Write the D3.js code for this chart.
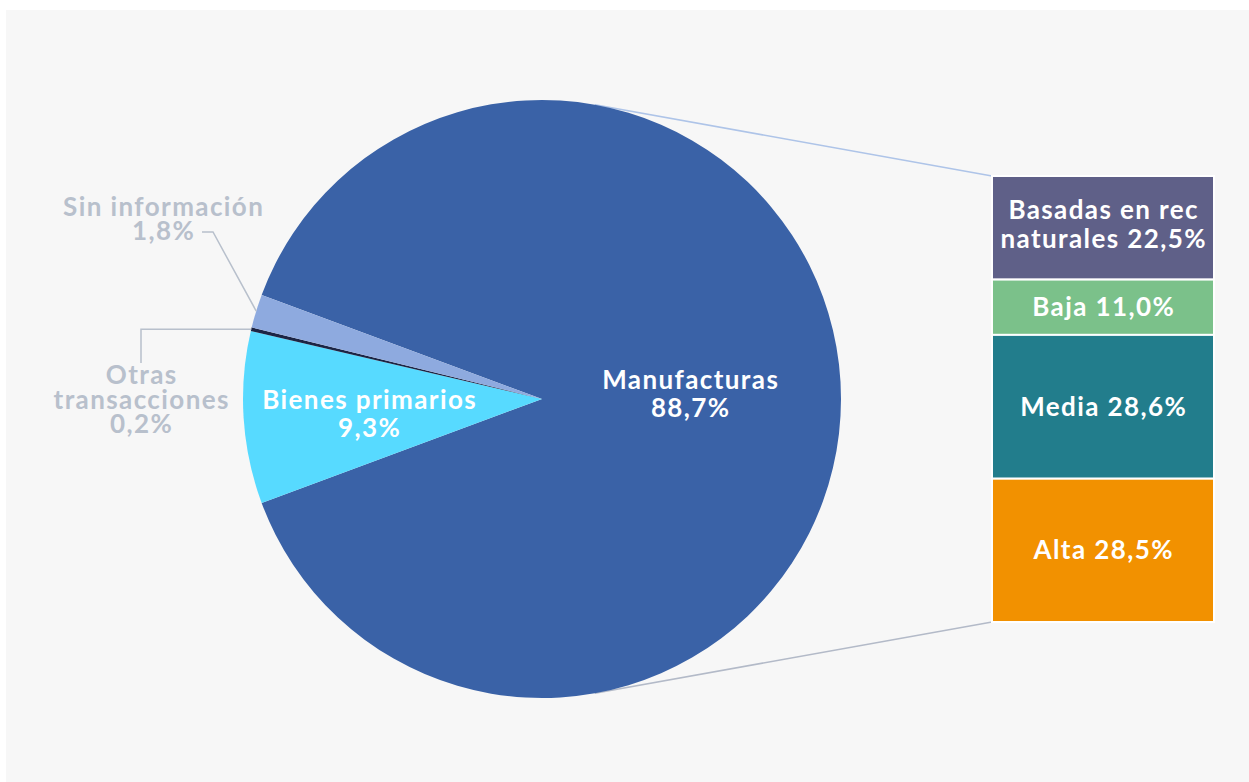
<!DOCTYPE html>
<html>
<head>
<meta charset="utf-8">
<script src="https://cdn.jsdelivr.net/npm/d3@7/dist/d3.min.js"></script>
<style>
  html, body { margin: 0; padding: 0; background: #ffffff; }
  svg { display: block; }
  text { font-family: Lato, "Noto Sans", sans-serif; font-weight: 700; letter-spacing: 1.4px; }
</style>
</head>
<body>
<svg id="chart" width="1249" height="782"></svg>
<script>
// ---- data ----
const pieCategories = ["Manufacturas", "Bienes primarios", "Otras transacciones", "Sin información"];
const pieValues = [88.7, 9.3, 0.2, 1.8];
const pieLabels = ["88,7%", "9,3%", "0,2%", "1,8%"];
const pieColors = ["#3a62a7", "#57daff", "#1c2545", "#8eaadf"];

const barCategories = ["Basadas en rec naturales", "Baja", "Media", "Alta"];
const barValues = [20.6, 11.0, 28.6, 28.5];
const barLabels = ["22,5%", "11,0%", "28,6%", "28,5%"];
const barColors = ["#5f6088", "#7bc18a", "#227d8c", "#f29100"];

// ---- layout ----
const W = 1249, H = 782;
const FS = 26, LS = 0.7; // font size, half letter-spacing compensation
const svg = d3.select("#chart");
svg.append("rect").attr("x", 6).attr("y", 10).attr("width", W - 6).attr("height", H - 10).attr("fill", "#f7f7f7");

const cx = 542, cy = 399, R = 299;
const total = d3.sum(pieValues);
const firstSpan = pieValues[0] / total * 2 * Math.PI;
const pie = d3.pie().sort(null).value(d => d)
  .startAngle(Math.PI / 2 - firstSpan / 2)
  .endAngle(Math.PI / 2 - firstSpan / 2 + 2 * Math.PI);
const arcs = pie(pieValues);
const arc = d3.arc().innerRadius(0).outerRadius(R);

// bar geometry
const barX = 992, barW = 222, barTop = 176, barBottom = 622;
const y = d3.scaleLinear().domain([0, d3.sum(barValues)]).range([barTop, barBottom]);
const cum = [0];
barValues.forEach((v, i) => cum.push(cum[i] + v));

// connector lines (tangent from bar corners to circle)
function tangentPoint(px, py, sign) {
  const vx = px - cx, vy = py - cy;
  const d = Math.hypot(vx, vy);
  const a = Math.atan2(vy, vx) + sign * Math.acos(R / d);
  return [cx + R * Math.cos(a), cy + R * Math.sin(a)];
}
const tTop = tangentPoint(barX, y(0), -1);
const tBot = tangentPoint(barX, y(d3.sum(barValues)), 1);
svg.append("line").attr("x1", tTop[0]).attr("y1", tTop[1]).attr("x2", barX).attr("y2", y(0))
  .attr("stroke", "#aec4e8").attr("stroke-width", 1.6);
svg.append("line").attr("x1", tBot[0]).attr("y1", tBot[1]).attr("x2", barX).attr("y2", y(d3.sum(barValues)))
  .attr("stroke", "#b3bac8").attr("stroke-width", 1.6);

// pie
const g = svg.append("g").attr("transform", `translate(${cx},${cy})`);
g.selectAll("path").data(arcs).join("path")
  .attr("d", arc).attr("fill", (d, i) => pieColors[i]);

// inside labels
const insideLabels = [
  { i: 0, x: 690, y: 389 },
  { i: 1, x: 369, y: 409 }
];
insideLabels.forEach(l => {
  const t = svg.append("text").attr("text-anchor", "middle").attr("fill", "#ffffff")
    .attr("font-size", FS).attr("x", l.x + LS).attr("y", l.y);
  t.append("tspan").attr("x", l.x + LS).text(pieCategories[l.i]);
  t.append("tspan").attr("x", l.x + LS).attr("dy", 28).text(pieLabels[l.i]);
});

// outside labels with leaders
const grey = "#b8c0cc";
function edgePoint(d) {
  const a = (d.startAngle + d.endAngle) / 2 - Math.PI / 2;
  return [cx + R * Math.cos(a), cy + R * Math.sin(a)];
}
// Sin información
{
  const p = edgePoint(arcs[3]);
  svg.append("path").attr("fill", "none").attr("stroke", grey).attr("stroke-width", 1.5)
    .attr("d", `M202,232 L213,232 L${p[0]},${p[1]}`);
  const t = svg.append("text").attr("text-anchor", "middle").attr("fill", grey).attr("font-size", FS);
  t.append("tspan").attr("x", 163 + LS).attr("y", 216).text(pieCategories[3]);
  t.append("tspan").attr("x", 163 + LS).attr("y", 240).text(pieLabels[3]);
}
// Otras transacciones
{
  const p = edgePoint(arcs[2]);
  svg.append("path").attr("fill", "none").attr("stroke", grey).attr("stroke-width", 1.5)
    .attr("d", `M141,363 L141,${p[1]} L${p[0]},${p[1]}`);
  const t = svg.append("text").attr("text-anchor", "middle").attr("fill", grey).attr("font-size", FS);
  t.append("tspan").attr("x", 141 + LS).attr("y", 384).text("Otras");
  t.append("tspan").attr("x", 141 + LS).attr("y", 409).text("transacciones");
  t.append("tspan").attr("x", 141 + LS).attr("y", 433).text(pieLabels[2]);
}

// bar
const bg = svg.append("g");
bg.selectAll("rect").data(barValues).join("rect")
  .attr("x", barX).attr("width", barW)
  .attr("y", (d, i) => y(cum[i]))
  .attr("height", (d, i) => y(cum[i + 1]) - y(cum[i]))
  .attr("fill", (d, i) => barColors[i])
  .attr("stroke", "#ffffff").attr("stroke-width", 2);

barValues.forEach((v, i) => {
  const mid = (y(cum[i]) + y(cum[i + 1])) / 2;
  const xm = barX + barW / 2 + LS;
  const t = svg.append("text").attr("text-anchor", "middle").attr("fill", "#ffffff").attr("font-size", FS);
  if (i === 0) {
    t.append("tspan").attr("x", xm).attr("y", mid - 9).text("Basadas en rec");
    t.append("tspan").attr("x", xm).attr("y", mid + 20).text("naturales " + barLabels[i]);
  } else {
    t.append("tspan").attr("x", xm).attr("y", mid + 9).text(barCategories[i] + " " + barLabels[i]);
  }
});
</script>
</body>
</html>
